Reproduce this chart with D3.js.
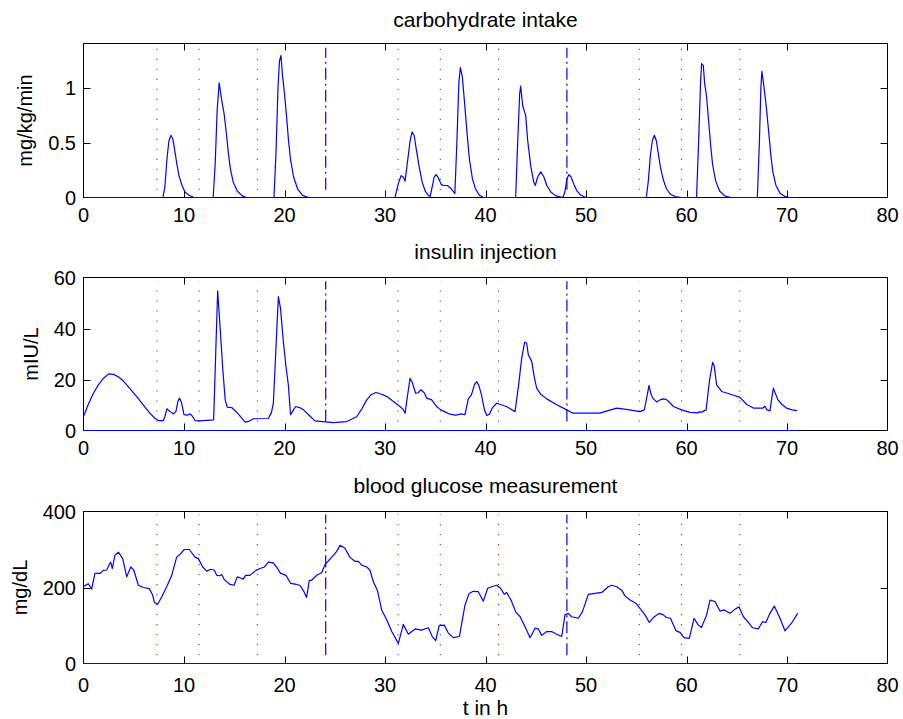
<!DOCTYPE html>
<html>
<head>
<meta charset="utf-8">
<script src="https://cdn.jsdelivr.net/npm/d3@7"></script>
<style>
    body { margin: 0; background: #fff; }
    svg { display: block; font-family: "Liberation Sans", Arial, Helvetica, sans-serif; }
</style>
</head>
<body>
<svg id="chart" width="903" height="719"></svg>
<script>

// x axis (hours)
var xTicks = [0, 10, 20, 30, 40, 50, 60, 70, 80];

// meal markers (dotted) and day boundaries (dash-dot)
var mealTimes = [7.3, 11.5, 17.3, 31.3, 35.5, 41.3, 55.3, 59.5, 65.3];
var dayTimes = [24.1, 48.1];

// zero reference line drawn under insulin and glucose
var zeroTime = [0, 71];
var zeroValue = [0, 0];

// carbohydrate intake, mg/kg/min
var carbTime = [0, 7.9, 8.1, 8.3, 8.5, 8.7, 8.9, 9.1, 9.3, 9.5, 9.8, 10.1, 10.5, 11.0,
    12.9, 13.1, 13.3, 13.5, 13.7, 14.0, 14.2, 14.4, 14.6, 14.9, 15.3, 15.8, 16.2,
    18.95, 19.15, 19.35, 19.5, 19.65, 19.8, 20.0, 20.2, 20.4, 20.6, 20.9, 21.3, 21.8, 22.4,
    31.0, 31.3, 31.6, 31.8, 32.0, 32.2, 32.5, 32.7, 32.9, 33.1, 33.4, 33.7, 34.0, 34.3, 34.5,
    34.7, 34.9, 35.1, 35.3, 35.6, 35.8, 36.2, 36.6, 36.95, 37.15, 37.35, 37.5, 37.7, 37.95,
    38.2, 38.4, 38.7, 39.0, 39.4, 39.8,
    43.0, 43.2, 43.4, 43.5, 43.7, 44.0, 44.2, 44.5, 44.8, 44.95, 45.2, 45.5, 45.8, 46.1,
    46.5, 47.0, 47.7, 47.9, 48.1, 48.3, 48.5, 48.8, 49.1, 49.5, 50.0,
    56.0, 56.2, 56.4, 56.6, 56.8, 57.0, 57.2, 57.4, 57.7, 58.0, 58.4, 59.0, 59.5,
    61.0, 61.2, 61.4, 61.5, 61.67, 61.8, 62.0, 62.2, 62.4, 62.6, 62.9, 63.3, 63.8, 64.4,
    67.05, 67.25, 67.4, 67.5, 67.7, 67.95, 68.2, 68.4, 68.6, 68.9, 69.3, 69.8, 70.2, 71.0];
var carbValue = [0, 0, 0.1, 0.35, 0.52, 0.57, 0.53, 0.42, 0.3, 0.2, 0.11, 0.05, 0.02, 0,
    0, 0.3, 0.8, 1.05, 0.92, 0.76, 0.6, 0.42, 0.27, 0.14, 0.06, 0.015, 0,
    0, 0.4, 1.0, 1.25, 1.3, 1.12, 0.95, 0.75, 0.52, 0.35, 0.19, 0.08, 0.02, 0,
    0, 0.12, 0.2, 0.19, 0.15, 0.3, 0.52, 0.6, 0.57, 0.45, 0.28, 0.14, 0.06, 0.02, 0.01,
    0.1, 0.19, 0.21, 0.18, 0.12, 0.11, 0.11, 0.08, 0.035, 0.5, 1.05, 1.19, 1.1, 0.83,
    0.55, 0.35, 0.17, 0.08, 0.02, 0,
    0, 0.5, 0.95, 1.02, 0.84, 0.75, 0.52, 0.29, 0.14, 0.11, 0.19, 0.235, 0.19, 0.11,
    0.05, 0.015, 0, 0.05, 0.17, 0.21, 0.19, 0.12, 0.06, 0.02, 0,
    0, 0.15, 0.38, 0.52, 0.57, 0.52, 0.4, 0.28, 0.16, 0.08, 0.03, 0.005, 0,
    0, 0.5, 1.05, 1.225, 1.21, 1.05, 0.92, 0.7, 0.48, 0.3, 0.15, 0.06, 0.015, 0,
    0, 0.5, 1.0, 1.155, 1.02, 0.82, 0.58, 0.38, 0.23, 0.11, 0.04, 0.01, 0, 0];

// insulin injection, mIU/L
var insulinTime = [0, 0.5, 1.0, 1.5, 2.0, 2.5, 3.0, 3.5, 4.0, 4.6, 5.3, 6.0, 6.6, 7.1, 7.45, 7.95,
    8.1, 8.3, 8.6, 8.95, 9.2, 9.4, 9.55, 9.75, 10.0, 10.3, 10.6, 10.8, 11.1, 11.5, 12.95,
    13.35, 13.6, 13.85, 14.1, 14.3, 14.75, 15.4, 16.07, 16.5, 16.9, 18.39, 18.7, 18.89,
    19.39, 19.6, 19.88, 20.15, 20.38, 20.6, 20.8, 21.1, 21.5, 21.9, 22.5, 23.03, 24.86,
    26.2, 27.18, 27.7, 28.18, 28.6, 29.1, 29.6, 30.2, 30.9, 31.49, 31.8, 32.0, 32.2, 32.49,
    32.7, 33.05, 33.3, 33.58, 33.9, 34.15, 34.65, 35.14, 35.6, 36.47, 37.0, 37.3, 37.5,
    37.96, 38.29, 38.6, 38.9, 39.12, 39.35, 39.6, 39.9, 40.12, 40.4, 40.7, 41.11, 42.1,
    42.94, 43.3, 43.6, 43.9, 44.1, 44.26, 44.6, 44.85, 45.09, 45.5, 46.09, 47.0, 48.08,
    48.7, 51.4, 52.2, 53.05, 54.0, 55.37, 55.8, 56.0, 56.27, 56.45, 56.64, 57.03, 57.4,
    57.7, 58.0, 58.2, 58.7, 59.52, 60.35, 61.1, 61.3, 61.5, 61.95, 62.3, 62.6, 62.75, 63.0,
    63.5, 64.4, 65.32, 66.0, 66.65, 67.6, 67.8, 68.0, 68.3, 68.64, 69.1, 69.5, 69.95, 70.5, 71.0];
var insulinValue = [5.5, 10.5, 14.7, 18, 20.5, 22.2, 22.0, 21.0, 19.3, 16.5, 13.3, 9.8, 6.8, 4.8, 3.9, 3.9,
    5.5, 8.5, 7.5, 6.5, 7.5, 11.5, 12.7, 11, 6.2, 6.0, 6.5, 5.8, 3.9, 3.8, 4.2,
    54.8, 40, 24.5, 12, 9.2, 9.0, 6.5, 3.3, 3.7, 4.6, 4.7, 7, 10.7,
    52.5, 48, 35, 25, 18, 6.2, 7.5, 9.4, 9.0, 8.1, 5.8, 3.8, 3.1,
    3.5, 5.4, 8.5, 12, 14, 14.9, 14.3, 13.3, 11.2, 9.4, 8.3, 6.8, 12.5, 20.5,
    19, 14.6, 14.8, 16, 14.8, 12.7, 12, 9.4, 8, 6.4, 6.0, 6.2, 6.5,
    6.2, 12.4, 14, 18, 19.2, 17.5, 14, 8, 5.9, 6.5, 9.0, 10.7, 9.4,
    7.4, 18, 28.4, 34.7, 34.2, 29.7, 27.1, 21, 16.6, 14.2, 12.4, 10.3, 8.1,
    6.8, 6.8, 7.8, 8.8, 8.3, 7.4, 8.1, 12, 17.7, 14.5, 12.7, 11.2, 12.1,
    12.4, 12.1, 11.5, 9.4, 8.1, 7.1, 6.9, 7.3, 7.2, 8.1, 20, 26.7, 25.5, 17.9,
    15.3, 14.2, 13.0, 10.2, 8.8, 8.8, 9.5, 8.1, 7.7, 16.6, 12, 10.2, 8.8, 8.1, 7.8];

// blood glucose measurement, mg/dL
var glucoseTime = [0.0, 0.48, 0.81, 1.14, 1.64, 1.97, 2.3, 2.7, 2.87, 3.13, 3.47, 3.9, 4.3, 4.7,
    5.0, 5.46, 5.96, 6.55, 6.88, 7.05, 7.38, 7.78, 8.28, 8.78, 9.27, 9.6, 10.03, 10.53,
    11.1, 11.43, 11.86, 12.26, 12.66, 12.99, 13.26, 13.53, 13.76, 14.03, 14.58, 14.98,
    15.3, 15.63, 15.9, 16.13, 16.56, 17.16, 17.56, 18.0, 18.39, 18.88, 19.2, 19.62, 20.15,
    20.61, 21.2, 21.53, 21.94, 22.2, 22.47, 22.7, 23.2, 23.7, 24.03, 24.7, 25.2, 25.52,
    26.0, 26.5, 27.0, 27.35, 27.68, 28.18, 28.5, 28.84, 29.24, 29.67, 30.17, 30.67, 31.33,
    31.82, 32.32, 32.99, 33.65, 34.31, 34.7, 35.04, 35.4, 35.9, 36.3, 36.8, 37.4, 37.96,
    38.36, 38.79, 39.28, 39.78, 40.22, 40.62, 41.1, 41.5, 41.87, 42.1, 42.54, 43.0, 43.45,
    43.86, 44.43, 44.93, 45.26, 45.59, 46.09, 46.58, 47.08, 47.58, 47.91, 48.24, 48.57,
    49.24, 49.64, 50.23, 50.73, 51.56, 52.22, 52.55, 53.05, 53.55, 53.88, 54.38, 54.98,
    55.37, 55.87, 56.3, 56.7, 57.3, 57.7, 58.0, 58.4, 58.96, 59.35, 59.75, 60.28, 60.75,
    61.18, 61.5, 62.0, 62.34, 62.84, 63.33, 63.76, 64.33, 64.83, 65.22, 65.67, 66.1, 66.58,
    67.14, 67.57, 67.9, 68.3, 68.74, 69.3, 69.8, 70.45, 71.06];
var glucoseValue = [203, 210, 196, 237, 237, 245, 246, 267, 250, 285, 293, 276, 228, 254,
    246, 206, 200, 197, 180, 161, 156, 175, 202, 232, 280, 287, 300, 300,
    280, 276, 254, 243, 248, 246, 232, 231, 234, 220, 208, 206,
    228, 225, 222, 232, 232, 245, 250, 254, 267, 265, 254, 237, 232,
    211, 208, 206, 189, 174, 219, 219, 232, 239, 260, 280, 295, 311,
    304, 280, 269, 269, 259, 254, 246, 215, 193, 141, 115, 84, 53,
    103, 77, 91, 88, 94, 71, 60, 100, 101, 80, 68, 71, 154,
    184, 190, 189, 164, 198, 202, 206, 198, 182, 187, 167, 136, 123,
    101, 68, 93, 91, 74, 84, 84, 77, 71, 128, 132, 123,
    119, 136, 182, 184, 187, 202, 206, 202, 193, 178, 167, 158,
    145, 128, 108, 121, 132, 128, 121, 119, 86, 82, 68, 66, 119,
    101, 95, 128, 167, 163, 138, 141, 132, 143, 149, 123, 110, 94,
    91, 110, 108, 132, 151, 119, 86, 106, 132];

function zip(t, v) {
    return t.map(function (d, i) { return [d, v[i]]; });
}

// panel layout
var plotLeft = 83.5, plotRight = 887.5;

var panels = [
    { title: "carbohydrate intake", ylabel: "mg/kg/min", top: 43.5, bottom: 197.5,
      yMax: 1.41, yTicks: [0, 0.5, 1], yTickFormat: function (d) { return d === 0.5 ? "0.5" : d; },
      series: [zip(carbTime, carbValue)], markRange: [0.07, 1.37],
      titleY: 27, xLabelDy: 24 },
    { title: "insulin injection", ylabel: "mIU/L", top: 277.5, bottom: 430.5,
      yMax: 60, yTicks: [0, 20, 40, 60], yTickFormat: function (d) { return d; },
      series: [zip(zeroTime, zeroValue), zip(insulinTime, insulinValue)], markRange: [3.5, 58.5],
      titleY: 259, xLabelDy: 24 },
    { title: "blood glucose measurement", ylabel: "mg/dL", top: 511.5, bottom: 663.5,
      yMax: 400, yTicks: [0, 200, 400], yTickFormat: function (d) { return d; },
      series: [zip(zeroTime, zeroValue), zip(glucoseTime, glucoseValue)], markRange: [22, 392],
      titleY: 493, xLabelDy: 28 }
];

var svg = d3.select("#chart");

var x = d3.scaleLinear().domain([0, 80]).range([plotLeft, plotRight]);

var tickLen = 7;

panels.forEach(function (p) {
    var y = d3.scaleLinear().domain([0, p.yMax]).range([p.bottom, p.top]);
    var g = svg.append("g");

    // box with inward ticks on all four sides (drawn first, data goes on top)
    g.append("rect")
        .attr("x", plotLeft).attr("y", p.top)
        .attr("width", plotRight - plotLeft).attr("height", p.bottom - p.top)
        .style("fill", "none")
        .style("stroke", "#000")
        .style("stroke-width", "1px");

    xTicks.forEach(function (t) {
        var xx = Math.round(x(t)) + 0.5;
        if (t > 0 && t < 80) {
            g.append("line").attr("x1", xx).attr("x2", xx)
                .attr("y1", p.bottom).attr("y2", p.bottom - tickLen)
                .style("stroke", "#000");
            g.append("line").attr("x1", xx).attr("x2", xx)
                .attr("y1", p.top).attr("y2", p.top + tickLen)
                .style("stroke", "#000");
        }
        g.append("text")
            .attr("x", x(t)).attr("y", p.bottom + p.xLabelDy)
            .attr("text-anchor", "middle")
            .style("font-size", "20px")
            .text(t);
    });

    var labelWidth = 0;
    p.yTicks.forEach(function (v) {
        var yy = Math.round(y(v)) + 0.5;
        if (v > 0 && v < p.yMax) {
            g.append("line").attr("x1", plotLeft).attr("x2", plotLeft + tickLen)
                .attr("y1", yy).attr("y2", yy).style("stroke", "#000");
            g.append("line").attr("x1", plotRight).attr("x2", plotRight - tickLen)
                .attr("y1", yy).attr("y2", yy).style("stroke", "#000");
        }
        var txt = g.append("text")
            .attr("x", plotLeft - 7.5).attr("y", y(v))
            .attr("dy", "0.36em")
            .attr("text-anchor", "end")
            .style("font-size", "20px")
            .text(p.yTickFormat(v));
        labelWidth = Math.max(labelWidth, txt.node().getComputedTextLength());
    });

    // y label sits left of the widest tick label
    var lx = plotLeft - 7.5 - labelWidth - 16;
    g.append("text")
        .attr("transform", "translate(" + lx + "," + ((p.top + p.bottom) / 2) + ") rotate(-90)")
        .attr("text-anchor", "middle")
        .style("font-size", "20px")
        .text(p.ylabel);

    // title
    g.append("text")
        .attr("x", (plotLeft + plotRight) / 2).attr("y", p.titleY)
        .attr("text-anchor", "middle")
        .style("font-size", "21px")
        .text(p.title);

    // meal and day markers
    mealTimes.forEach(function (t) {
        g.append("line")
            .attr("x1", x(t)).attr("x2", x(t))
            .attr("y1", y(p.markRange[0])).attr("y2", y(p.markRange[1]))
            .style("stroke", "#0000ff")
            .style("stroke-width", "1px")
            .style("stroke-dasharray", "1,9");
    });
    dayTimes.forEach(function (t) {
        g.append("line")
            .attr("x1", x(t)).attr("x2", x(t))
            .attr("y1", y(p.markRange[0])).attr("y2", y(p.markRange[1]))
            .style("stroke", "#0000ff")
            .style("stroke-width", "1.2px")
            .style("stroke-dasharray", "12,4,2,4");
    });

    // data
    var line = d3.line()
        .x(function (d) { return x(d[0]); })
        .y(function (d) { return y(d[1]); });

    p.series.forEach(function (s) {
        g.append("path")
            .attr("d", line(s))
            .style("fill", "none")
            .style("stroke", "#0000ff")
            .style("stroke-width", "1.2px")
            .style("stroke-linejoin", "round");
    });
});

svg.append("text")
    .attr("x", (plotLeft + plotRight) / 2).attr("y", 715)
    .attr("text-anchor", "middle")
    .style("font-size", "21px")
    .text("t in h");

</script>
</body>
</html>
